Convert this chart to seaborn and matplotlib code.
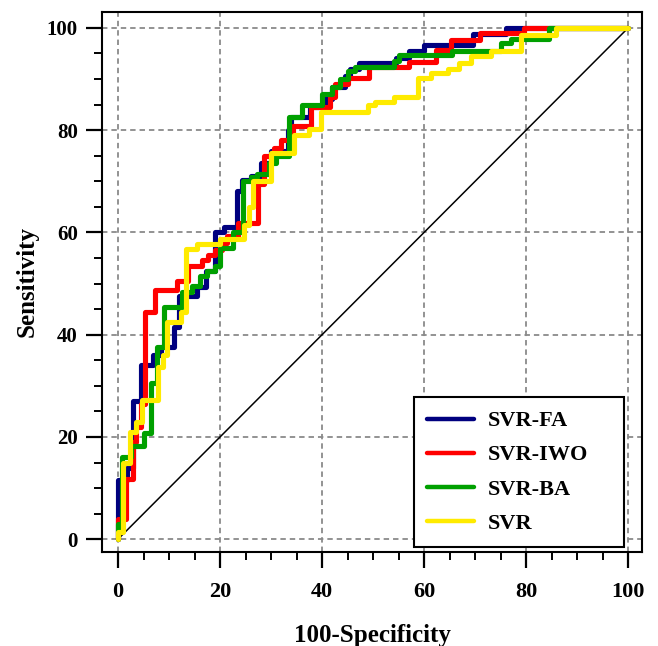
"""
ROC curves for the four SVR models (Sensitivity vs 100-Specificity).
"""

import numpy as np
import pandas as pd
import matplotlib

matplotlib.use("Agg")
import matplotlib.pyplot as plt
import seaborn as sns

# ROC points: at each x the curve rises to y (drawn as steps)
fa_x = [0, 0, 1.7, 3.0, 4.6, 6.8, 8.5, 11.0, 12.0, 15.5, 17.3, 19.0, 20.7, 23.3, 24.3, 26.0, 28.0,
        30.0, 33.3, 34.0, 37.7, 40.5, 42.0, 44.5, 45.5, 47.3, 54.5, 57.0, 60.0, 69.5, 76.0, 100]
fa_y = [0, 11.5, 14.0, 27.0, 34.0, 36.0, 37.5, 41.5, 47.5, 49.3, 52.5, 60.0, 61.0, 68.0, 70.3, 71.0, 73.5,
        76.0, 80.0, 82.5, 84.5, 86.0, 88.5, 90.5, 92.0, 93.2, 94.0, 95.5, 96.7, 98.7, 100, 100]

iwo_x = [0, 0, 1.6, 3.0, 3.6, 4.5, 5.2, 7.3, 11.5, 13.8, 16.5, 17.7, 19.0, 20.3, 21.3, 23.5, 27.5,
         28.7, 30.5, 32.0, 34.3, 37.8, 41.5, 42.5, 45.0, 49.2, 57.0, 62.3, 65.2, 71.0, 79.6, 100]
iwo_y = [0, 4.0, 11.8, 19.0, 22.0, 26.5, 44.5, 48.8, 50.5, 53.4, 54.5, 55.5, 56.5, 58.0, 59.3, 61.8, 69.5,
         75.0, 76.5, 78.0, 80.8, 84.5, 86.5, 89.0, 90.2, 92.4, 93.3, 95.6, 97.6, 99.0, 100, 100]

ba_x = [0, 0, 0.8, 2.5, 5.0, 6.5, 7.7, 9.0, 12.5, 14.5, 16.0, 17.5, 19.0, 20.0, 22.5, 24.5, 26.0,
        27.3, 29.5, 31.0, 33.5, 36.0, 40.0, 42.0, 43.5, 45.0, 46.5, 54.0, 55.0, 65.5, 75.0, 77.0, 84.5, 100]
ba_y = [0, 3.0, 16.0, 18.3, 20.7, 30.5, 37.5, 45.5, 48.3, 49.5, 51.5, 52.5, 53.5, 57.0, 60.0, 70.0, 70.8,
        71.5, 73.5, 75.0, 82.5, 85.0, 87.0, 88.5, 90.0, 91.5, 92.4, 93.5, 94.6, 95.5, 97.0, 97.8, 100, 100]

svr_x = [0, 0, 1.0, 2.3, 3.5, 4.7, 7.8, 8.8, 9.6, 12.3, 13.3, 15.5, 20.0, 24.6, 25.6, 26.4, 30.0,
         34.5, 37.5, 39.8, 49.0, 50.3, 54.0, 58.8, 61.3, 64.6, 66.9, 69.2, 73.1, 79.0, 85.8, 100]
svr_y = [0, 1.5, 15.0, 21.0, 23.0, 27.3, 33.7, 36.0, 42.5, 44.4, 56.8, 57.8, 58.7, 61.5, 65.0, 70.0, 75.5,
         79.0, 80.2, 83.5, 85.0, 85.5, 86.5, 90.2, 91.2, 92.0, 93.1, 94.4, 95.4, 98.5, 100, 100]

models = ["SVR-FA", "SVR-IWO", "SVR-BA", "SVR"]
colors = ["#00007f", "#ff0000", "#00a000", "#ffeb00"]
ticks = [0, 20, 40, 60, 80, 100]

curves = {"SVR-FA": (fa_x, fa_y), "SVR-IWO": (iwo_x, iwo_y),
          "SVR-BA": (ba_x, ba_y), "SVR": (svr_x, svr_y)}
frames = []
for name in models:
    xs, ys = curves[name]
    frames.append(pd.DataFrame({"fpr": xs, "tpr": ys, "model": name}))
df = pd.concat(frames, ignore_index=True)

sns.set_style("white")
plt.rcParams["font.family"] = ["Liberation Serif", "DejaVu Serif"]
plt.rcParams["font.weight"] = "bold"
plt.rcParams["text.color"] = "black"
plt.rcParams["axes.labelcolor"] = "black"

fig = plt.figure(figsize=(6.58, 6.46), dpi=100)
ax = fig.add_axes([0.155, 0.1455, 0.8207, 0.836])

# reference diagonal
ax.plot([0, 100], [0, 100], color="black", linewidth=1.1, zorder=2)

sns.lineplot(data=df, x="fpr", y="tpr", hue="model", hue_order=models,
             palette=colors, estimator=None, sort=False, drawstyle="steps-post",
             linewidth=3.7, ax=ax, zorder=3)

ax.set_xlim(-3.14, 102.7)
ax.set_ylim(-2.5, 103.1)
ax.set_xticks(ticks)
ax.set_yticks(ticks)
ax.set_xticks(np.arange(0, 101, 5), minor=True)
ax.set_yticks(np.arange(0, 101, 5), minor=True)
ax.tick_params(which="major", direction="out", length=11.5, width=1.6,
               labelsize=15, pad=6, colors="black", bottom=True, left=True)
ax.tick_params(axis="x", which="major", labelsize=16, pad=10)
ax.tick_params(which="minor", direction="out", length=5.5, width=1.4,
               colors="black", bottom=True, left=True)

ax.grid(True, which="major", color="#8a8a8a", linestyle=(0, (3, 2.2)), linewidth=1.3)
ax.set_axisbelow(True)

for spine in ax.spines.values():
    spine.set_visible(True)
    spine.set_color("black")
    spine.set_linewidth(1.5)

ax.set_xlabel("100-Specificity", fontsize=18, fontweight="bold", labelpad=16)
ax.set_ylabel("Sensitivity", fontsize=18, fontweight="bold", labelpad=6)

handles, labels = ax.get_legend_handles_labels()
leg = ax.legend(handles, labels, loc="lower left", mode="expand",
                bbox_to_anchor=(0.578, 0.0093, 0.389, 0.27),
                borderaxespad=0, fancybox=False, framealpha=1, edgecolor="black",
                prop={"family": "Liberation Serif", "weight": "bold", "size": 16},
                handlelength=2.1, handletextpad=0.6, labelspacing=0.61,
                borderpad=0.6)
leg.get_frame().set_linewidth(1.5)
for line in leg.get_lines():
    line.set_linewidth(3.2)

fig.savefig("out.png", dpi=100, facecolor="white")
plt.close(fig)
